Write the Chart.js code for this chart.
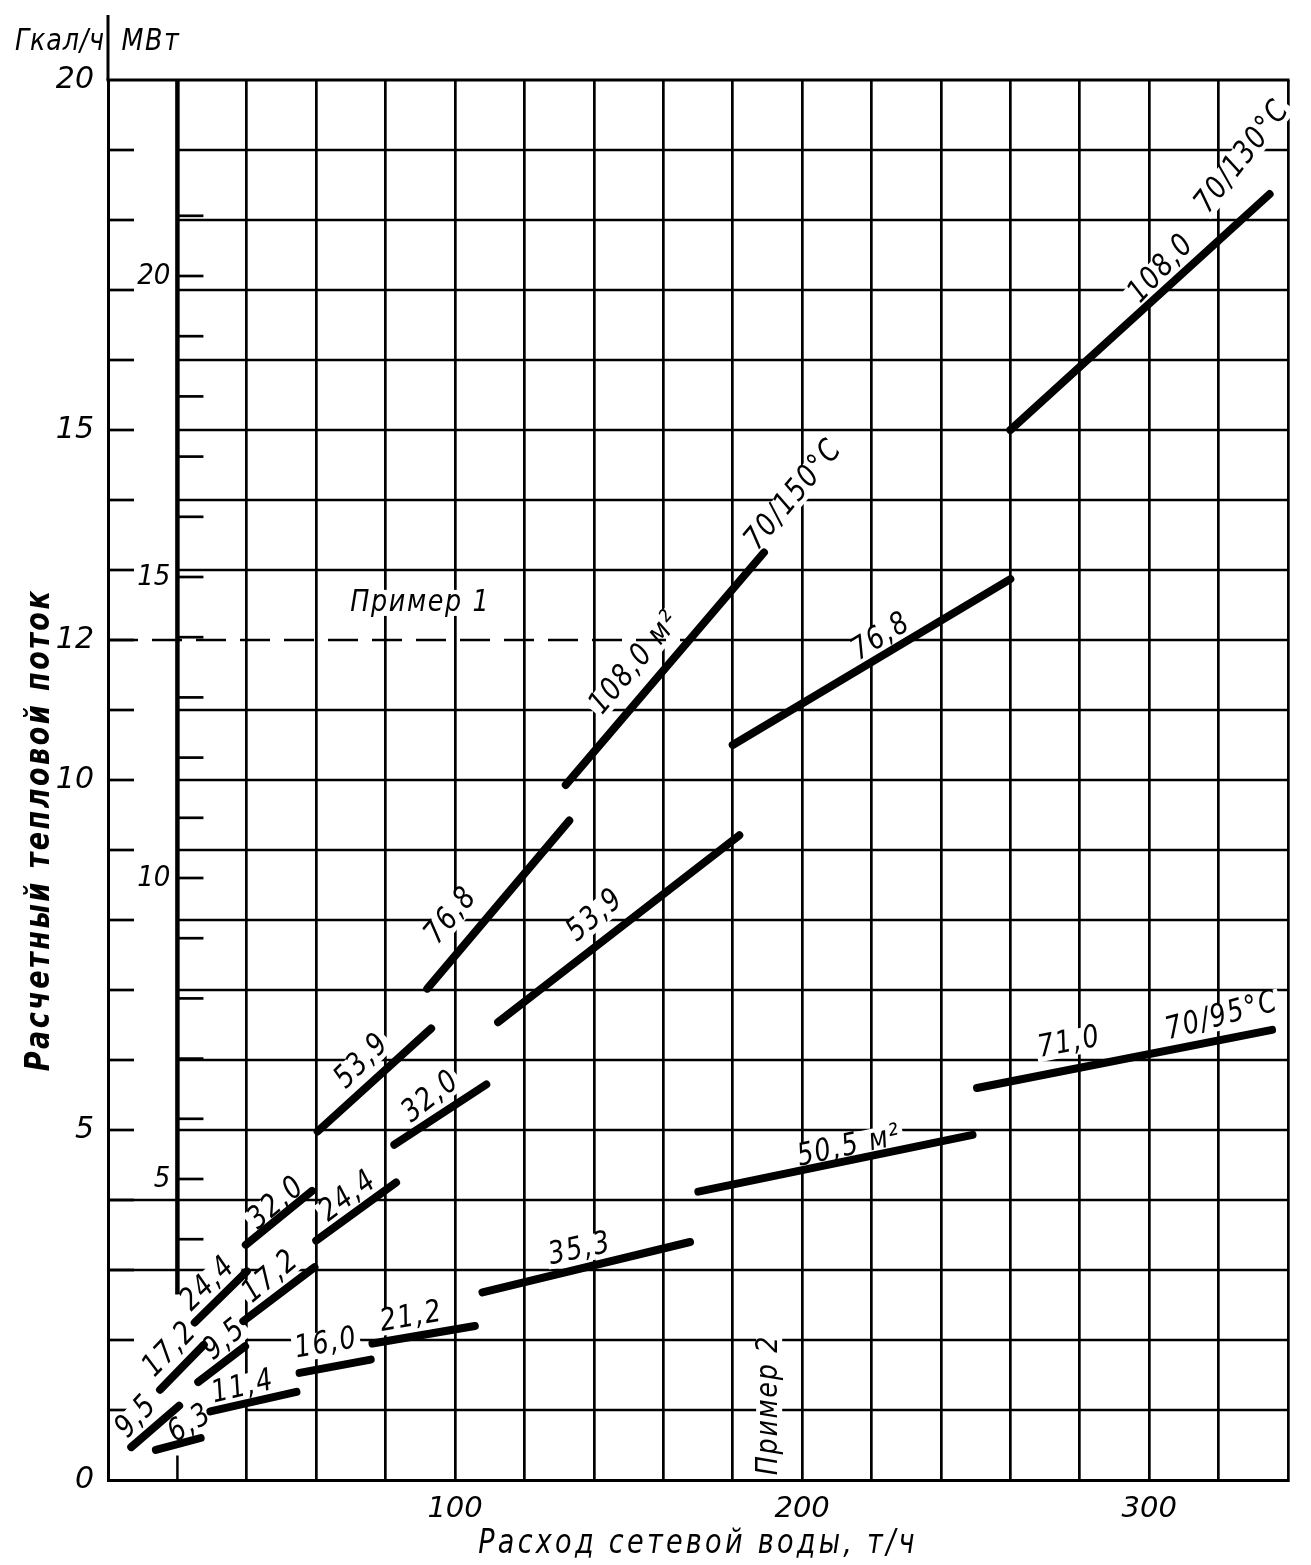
<!DOCTYPE html>
<html>
<head>
<meta charset="utf-8">
<script src="https://cdn.jsdelivr.net/npm/chart.js@4.4.1/dist/chart.umd.min.js"></script>
<style>
  html, body { margin: 0; padding: 0; background: #fff; }
  #wrap { width: 1311px; height: 1565px; position: relative; }
</style>
</head>
<body>
<div id="wrap"><canvas id="myChart"></canvas></div>
<script>
const MW_PER_GCAL = 1 / 0.86;
const FONT = '"DejaVu Sans", "Noto Sans", sans-serif';

// Heating surface (m2) and line ends: flow t/h -> heat flow Gcal/h
// 70/150 C
const area150 = ['9,5', '17,2', '24,4', '32,0', '53,9', '76,8', '108,0 м²'];
const flow150From = [6.7, 15, 25, 39.7, 60.4, 92, 131.9];
const flow150To = [20.5, 27.6, 40, 58.8, 93.1, 132.9, 189];
const heat150From = [0.47, 1.29, 2.25, 3.36, 4.98, 7.02, 9.93];
const heat150To = [1.06, 1.93, 2.98, 4.13, 6.45, 9.42, 13.25];

// 70/130 C
const area130 = ['9,5', '17,2', '24,4', '32,0', '53,9', '76,8', '108,0'];
const flow130From = [26, 39, 60, 82.5, 112.4, 180, 260];
const flow130To = [39.5, 59.5, 83, 109, 181.9, 260, 334.7];
const heat130From = [1.40, 2.27, 3.42, 4.79, 6.54, 10.5, 15.0];
const heat130To = [1.91, 3.04, 4.25, 5.65, 9.21, 12.87, 18.37];

// 70/95 C
const area95 = ['6,3', '11,4', '16,0', '21,2', '35,3', '50,5 м²', '71,0'];
const flow95From = [13.8, 29.5, 55.2, 76.2, 107.9, 170.1, 250.4];
const flow95To = [26.7, 54.3, 75.7, 105.7, 167.7, 249.1, 335.4];
const heat95From = [0.43, 0.98, 1.53, 1.95, 2.68, 4.12, 5.6];
const heat95To = [0.60, 1.26, 1.72, 2.20, 3.40, 4.93, 6.43];

const example1Heat = 12;
const example1Flow = [0, 168];

// tick labels
const xLabels = [100, 200, 300];
const gcalLabels = [0, 5, 10, 12, 15, 20];
const mwLabels = [5, 10, 15, 20];
const mwTicks = [4, 5, 6, 7, 8, 9, 10, 11, 12, 13, 14, 15, 16, 17, 18, 19, 20, 21];

// label placement: [x, y, angle]
const notes150 = [[8.3, 0.9, 47], [18, 1.86, 46], [28.9, 2.8, 44], [48.6, 3.95, 40], [73.3, 5.98, 45], [99, 8.06, 50], [152, 11.67, 50]];
const notes130 = [[33.7, 2.0, 40], [47, 2.9, 40], [69.3, 4.05, 37], [93.1, 5.47, 38], [140.5, 8.06, 40], [222.8, 12.04, 32], [303.6, 17.3, 47]];
const notes95 = [[23.7, 0.8, 32], [38.9, 1.32, 13], [62.9, 1.94, 10], [87.4, 2.32, 10], [136, 3.29, 12], [213.6, 4.76, 12], [277, 6.24, 11]];
const extraNotes = [
    ['70/150°C', 197.7, 14.07, 50],
    ['70/130°C', 327, 18.9, 52],
    ['70/95°C', 321, 6.62, 15],
    ['Пример 1', 90, 12.53, 0],
    ['Пример 2', 190.5, 1.07, 90]
];

function segments(from, to, hFrom, hTo) {
    return from.map((f, i) => ({
        data: [{x: f, y: hFrom[i]}, {x: to[i], y: hTo[i]}],
        showLine: true,
        borderColor: '#000',
        borderWidth: 8,
        borderCapStyle: 'round',
        pointRadius: 0,
        fill: false
    }));
}

function line(ctx, x1, y1, x2, y2, w) {
    ctx.lineWidth = w;
    ctx.beginPath();
    ctx.moveTo(x1, y1);
    ctx.lineTo(x2, y2);
    ctx.stroke();
}

function text(ctx, str, px, py, deg, o) {
    o = o || {};
    const size = o.size || 31;
    ctx.save();
    ctx.translate(px, py);
    ctx.rotate(-deg * Math.PI / 180);
    ctx.scale(o.sx || 0.82, 1);
    ctx.font = (o.bold ? 'bold ' : '') + 'italic ' + size + 'px ' + FONT;
    ctx.letterSpacing = (o.spacing === undefined ? 2 : o.spacing) + 'px';
    ctx.textAlign = o.align || 'center';
    ctx.textBaseline = 'middle';
    if (o.bg) {
        const w = ctx.measureText(str).width;
        ctx.fillStyle = '#fff';
        ctx.fillRect(-w / 2 - 3, -size * 0.42, w + 6, size * 0.84);
    }
    ctx.fillStyle = '#000';
    ctx.fillText(str, 0, 0);
    ctx.restore();
}

const nomogram = {
    id: 'nomogram',
    beforeDatasetsDraw(chart) {
        const {ctx, chartArea: a, scales} = chart;
        const x = scales.x, y = scales.y, mw = scales.mw;
        ctx.save();
        ctx.strokeStyle = '#000';

        // horizontal grid, short ticks on the outer axis
        for (let q = 1; q < 20; q++) {
            const py = y.getPixelForValue(q);
            let from = q <= 2 ? 40 : 20;
            if (q === 3 || q === 4) from = 0;
            if (q === example1Heat) from = example1Flow[1];
            line(ctx, x.getPixelForValue(from), py, a.right, py, 2.7);
            line(ctx, a.left, py, x.getPixelForValue(7.5), py, 2.7);
        }
        line(ctx, a.left - 1.5, a.top, a.right + 1.5, a.top, 3);
        line(ctx, a.left, a.top - 65, a.left, a.top, 3);

        // MW axis at 20 t/h
        const ix = x.getPixelForValue(20);
        line(ctx, ix, y.getPixelForValue(2.65), ix, a.top, 4.5);
        line(ctx, ix, y.getPixelForValue(0.35), ix, a.bottom, 2.5);
        mwTicks.forEach(m => {
            const py = mw.getPixelForValue(m);
            line(ctx, ix, py, x.getPixelForValue(27.5), py, 2.7);
        });
        mwLabels.forEach(m => {
            text(ctx, String(m), ix - 7, mw.getPixelForValue(m), 0, {size: 29, align: 'right', spacing: 0, sx: 0.9});
        });

        // axis names
        text(ctx, 'Гкал/ч', a.left - 48, a.top - 38, 0, {size: 31, spacing: 1});
        text(ctx, 'МВт', a.left + 43, a.top - 38, 0, {size: 31, spacing: 2});
        text(ctx, 'Расчетный тепловой поток', a.left - 68, (a.top + a.bottom) / 2 + 50, 90, {size: 33, bold: true, spacing: 3});
        text(ctx, 'Расход сетевой воды, т/ч', (a.left + a.right) / 2, a.bottom + 64, 0, {size: 33, spacing: 4});

        // curve labels
        const put = (names, notes) => names.forEach((s, i) => {
            const n = notes[i];
            text(ctx, s, x.getPixelForValue(n[0]), y.getPixelForValue(n[1]), n[2], {bg: true});
        });
        put(area150, notes150);
        put(area130, notes130);
        put(area95, notes95);
        extraNotes.forEach(n => {
            text(ctx, n[0], x.getPixelForValue(n[1]), y.getPixelForValue(n[2]), n[3], {bg: true});
        });
        ctx.restore();
    }
};

const datasets = []
    .concat(segments(flow150From, flow150To, heat150From, heat150To))
    .concat(segments(flow130From, flow130To, heat130From, heat130To))
    .concat(segments(flow95From, flow95To, heat95From, heat95To));

datasets.push({
    data: example1Flow.map(f => ({x: f, y: example1Heat})),
    showLine: true,
    borderColor: '#000',
    borderWidth: 2.7,
    borderDash: [30, 14],
    pointRadius: 0,
    fill: false
});

let ctx = document.getElementById('myChart').getContext('2d');
let chart = new Chart(ctx, {
    type: 'scatter',
    data: { datasets: datasets },
    options: {
        animation: false,
        responsive: true,
        maintainAspectRatio: false,
        devicePixelRatio: 1,
        layout: { padding: { top: 80, right: 23, left: 0, bottom: 0 } },
        plugins: { legend: { display: false }, tooltip: { enabled: false } },
        scales: {
            x: {
                type: 'linear',
                min: 0,
                max: 340,
                afterFit: s => { s.height = 85; },
                ticks: {
                    stepSize: 20,
                    autoSkip: false,
                    maxRotation: 0,
                    padding: 12,
                    color: '#000',
                    font: { family: FONT, style: 'italic', size: 29 },
                    callback: v => xLabels.includes(v) ? String(v) : ''
                },
                grid: {
                    color: '#000',
                    drawTicks: false,
                    lineWidth: c => (c.tick && c.tick.value === 20) ? 0 : 2.7
                },
                border: { color: '#000', width: 3 }
            },
            y: {
                type: 'linear',
                min: 0,
                max: 20,
                afterFit: s => { s.width = 108; },
                ticks: {
                    stepSize: 1,
                    autoSkip: false,
                    padding: 6,
                    color: '#000',
                    font: { family: FONT, style: 'italic', size: 30 },
                    callback: v => gcalLabels.includes(v) ? String(v) : ''
                },
                grid: { display: false },
                border: { color: '#000', width: 3 }
            },
            mw: {
                type: 'linear',
                display: false,
                position: 'left',
                min: 0,
                max: 20 * MW_PER_GCAL
            }
        }
    },
    plugins: [nomogram]
});
</script>
</body>
</html>
